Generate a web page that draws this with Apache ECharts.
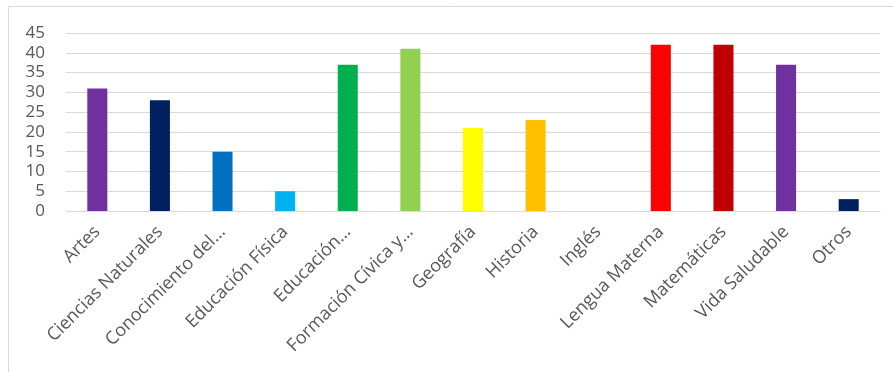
<!DOCTYPE html>
<html><head><meta charset="utf-8">
<script src="https://cdn.jsdelivr.net/npm/echarts@6/dist/echarts.min.js"></script>
<style>html,body{margin:0;padding:0;background:#fff}#c{width:893px;height:372px}</style>
</head><body><div id="c"></div>
<script>
const categories = ["Artes","Ciencias Naturales","Conocimiento del…","Educación Física","Educación…","Formación Cívica y…","Geografía","Historia","Inglés","Lengua Materna","Matemáticas","Vida Saludable","Otros"];
const values = [31,28,15,5,37,41,21,23,0,42,42,37,3];
const colors = ["#7030A0","#002060","#0070C0","#00B0F0","#00B050","#92D050","#FFFF00","#FFC000","#A5A5A5","#FF0000","#C00000","#7030A0","#002060"];
const yTicks = [0,5,10,15,20,25,30,35,40,45];

const chart = echarts.init(document.getElementById('c'), null, {renderer:'canvas'});
chart.setOption({
  animation:false,
  graphic:[{type:'rect',shape:{x:8.5,y:6.5,width:900,height:400},style:{fill:'none',stroke:'#d9d9d9',lineWidth:1},silent:true}],
  grid:{left:66,right:13,top:33,bottom:161},
  xAxis:{type:'category',data:categories,
    axisLine:{lineStyle:{color:'#d9d9d9'}},axisTick:{show:false},
    axisLabel:{rotate:45,interval:0,color:'#595959',fontSize:18,fontFamily:'Open Sans',margin:18}},
  yAxis:{type:'value',min:yTicks[0],max:yTicks[yTicks.length-1],interval:5,
    axisLine:{show:false},axisTick:{show:false},
    axisLabel:{color:'#595959',fontSize:17,fontFamily:'Open Sans',margin:21},
    splitLine:{lineStyle:{color:'#d9d9d9',width:1}}},
  series:[{type:'bar',barWidth:'32%',
    data:values.map((v,i)=>({value:v,itemStyle:{color:colors[i]}}))}]
});
</script></body></html>
